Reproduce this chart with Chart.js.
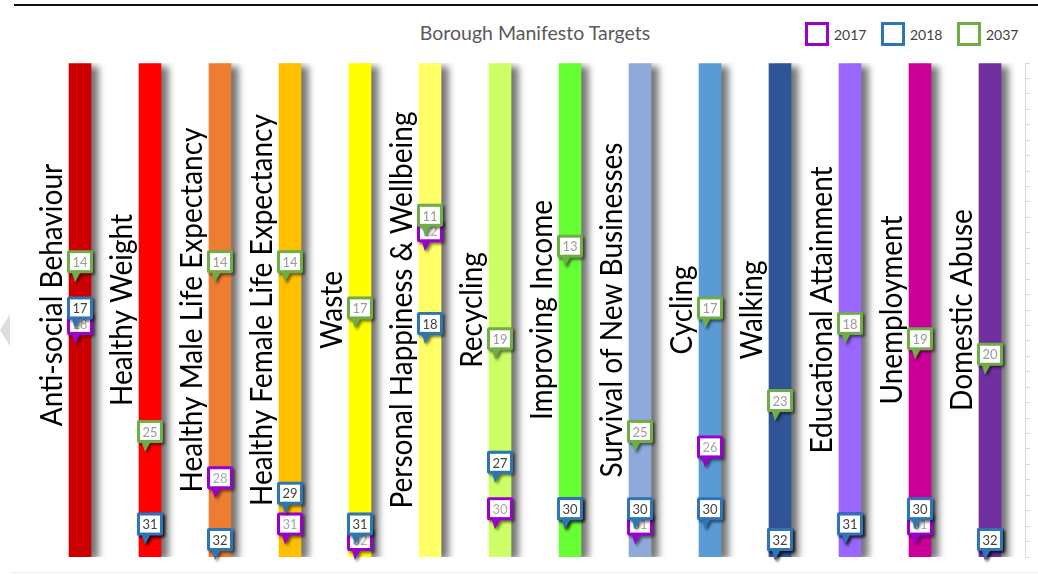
<!DOCTYPE html>
<html lang="en">
<head>
  <meta charset="UTF-8" />
  <title>Borough Manifesto Targets</title>
  <script src="https://cdn.jsdelivr.net/npm/chart.js@4.4.0/dist/chart.umd.min.js"></script>
  <style>
body { margin: 0; width: 1038px; height: 575px; position: relative; overflow: hidden; background: #fff; font-family: Lato, Arial, sans-serif; }
#topline { position: absolute; top: 4px; left: 14px; right: 0; height: 2px; background: #111; }
#botline { position: absolute; top: 572px; left: 10px; right: 0; height: 1px; background: #eee; }
#arrow { position: absolute; left: 0; top: 314px; width: 0; height: 0; border-top: 16px solid transparent; border-bottom: 16px solid transparent; border-right: 10px solid #ddd; }
#title { position: absolute; top: 20px; left: 335px; width: 400px; text-align: center; font-size: 19.5px; color: #595959; line-height: 26px; }
.lg { position: absolute; top: 22px; display: flex; align-items: center; font-size: 14px; color: #404040; }
.lg span.box { width: 24px; height: 24px; box-sizing: border-box; border: 3px solid; margin-right: 5px; }
#chart { position: absolute; left: 0; top: 0; }
  </style>
</head>
<body>
  <div id="topline"></div>
  <div id="botline"></div>
  <div id="arrow"></div>
  <div id="title">Borough Manifesto Targets</div>
  <div class="lg" style="left:805px"><span class="box" style="border-color:#9a00d0"></span>2017</div>
  <div class="lg" style="left:881px"><span class="box" style="border-color:#2e75b6"></span>2018</div>
  <div class="lg" style="left:957px"><span class="box" style="border-color:#70ad47"></span>2037</div>
  <canvas id="chart" width="1038" height="575"></canvas>

  <script>
    // categories and values (rank, lower is better -> axis reversed)
    const categories = ['Anti-social Behaviour','Healthy Weight','Healthy Male Life Expectancy','Healthy Female Life Expectancy',
      'Waste','Personal Happiness & Wellbeing','Recycling','Improving Income','Survival of New Businesses','Cycling',
      'Walking','Educational Attainment','Unemployment','Domestic Abuse'];
    const y2017 = [18,31,28,31,32,12,30,30,31,26,32,31,31,32];
    const y2018 = [17,31,32,29,31,18,27,30,30,30,32,31,30,32];
    const y2037 = [14,25,14,14,17,11,19,13,25,17,23,18,19,20];
    const barTops = [32,32,32,32,32,32,32,32,32,32,32,32,32,32];
    const barColors = ['#cc0000','#ff0000','#ed7d31','#ffc000','#ffff00','#ffff66','#ccff66',
      '#66ff33','#8eaadb','#5b9bd5','#2f5597','#9966ff','#cc0099','#7030a0'];
    const seriesNames = ['2017','2018','2037'];
    const seriesColors = ['#9a00d0','#2e75b6','#70ad47'];
    const seriesText = ['#a8a8a8','#404040','#9a9a9a'];

    // soft shadow to the right of each bar
    const barShadow = {
      id: 'barShadow',
      beforeDatasetDraw(chart, args) {
        if (args.index !== 0) return;
        const c = chart.ctx; c.save();
        c.shadowColor = 'rgba(0,0,0,0.55)'; c.shadowOffsetX = 8; c.shadowOffsetY = 3; c.shadowBlur = 7;
      },
      afterDatasetDraw(chart, args) { if (args.index === 0) chart.ctx.restore(); }
    };

    // rotated category names left of each bar
    const catLabels = {
      id: 'catLabels',
      beforeDatasetsDraw(chart) {
        const c = chart.ctx, area = chart.chartArea, xs = chart.scales.x;
        const shift = {0: -15};
        c.save();
        c.fillStyle = '#000'; c.font = '28px Lato'; c.textAlign = 'center'; c.textBaseline = 'alphabetic';
        categories.forEach((name, i) => {
          c.save();
          c.translate(xs.getPixelForValue(i) - 18, (area.top + area.bottom) / 2 + (shift[i] || 0));
          c.rotate(-Math.PI / 2); c.scale(1, 1.09);
          c.fillText(name, 0, 0);
          c.restore();
        });
        c.restore();
      }
    };

    // callout boxes for the three years
    const callouts = {
      id: 'callouts',
      afterDatasetsDraw(chart) {
        const c = chart.ctx;
        [1, 2, 3].forEach((di, s) => {
          chart.getDatasetMeta(di).data.forEach((pt, i) => {
            const val = chart.data.datasets[di].data[i];
            const cx = pt.x, py = pt.y, w = 26, h = 23;
            const left = cx - w / 2, bottom = py - 6, top = bottom - h;
            c.save();
            c.shadowColor = 'rgba(0,0,0,0.55)'; c.shadowOffsetX = 2; c.shadowOffsetY = 2; c.shadowBlur = 3;
            c.fillStyle = seriesColors[s];
            c.beginPath();
            c.roundRect(left, top, w, h, 2);
            c.moveTo(left + 5, bottom); c.lineTo(left + 13, bottom); c.lineTo(left + 8, py + 3); c.closePath();
            c.fill();
            c.restore();
            c.fillStyle = '#fff';
            c.fillRect(left + 3, top + 3, w - 6, h - 6);
            c.fillStyle = seriesText[s];
            c.font = '13px Lato'; c.textAlign = 'center'; c.textBaseline = 'middle';
            c.fillText(String(val), cx, top + h / 2 + 1);
          });
        });
      }
    };

    new Chart(document.getElementById('chart'), {
      type: 'bar',
      data: {
        labels: categories,
        datasets: [
          {data: barTops, backgroundColor: barColors, barThickness: 22, order: 4},
          {type: 'line', label: seriesNames[0], data: y2017, showLine: false, pointRadius: 0, order: 1},
          {type: 'line', label: seriesNames[1], data: y2018, showLine: false, pointRadius: 0, order: 2},
          {type: 'line', label: seriesNames[2], data: y2037, showLine: false, pointRadius: 0, order: 3}
        ]
      },
      options: {
        responsive: false, animation: false,
        layout: {padding: {top: 63, bottom: 18, left: 45, right: 5}},
        scales: {
          x: {display: false, offset: true},
          y: {
            position: 'right', reverse: true, min: 0, max: 32,
            ticks: {display: false, stepSize: 1},
            grid: {drawOnChartArea: false, drawTicks: true, tickLength: 5, color: '#d9d9d9'},
            border: {color: '#d9d9d9'},
            afterFit(s) { s.width = 8; }
          }
        },
        plugins: {legend: {display: false}, tooltip: {enabled: false}}
      },
      plugins: [barShadow, catLabels, callouts]
    });
  </script>
</body>
</html>
